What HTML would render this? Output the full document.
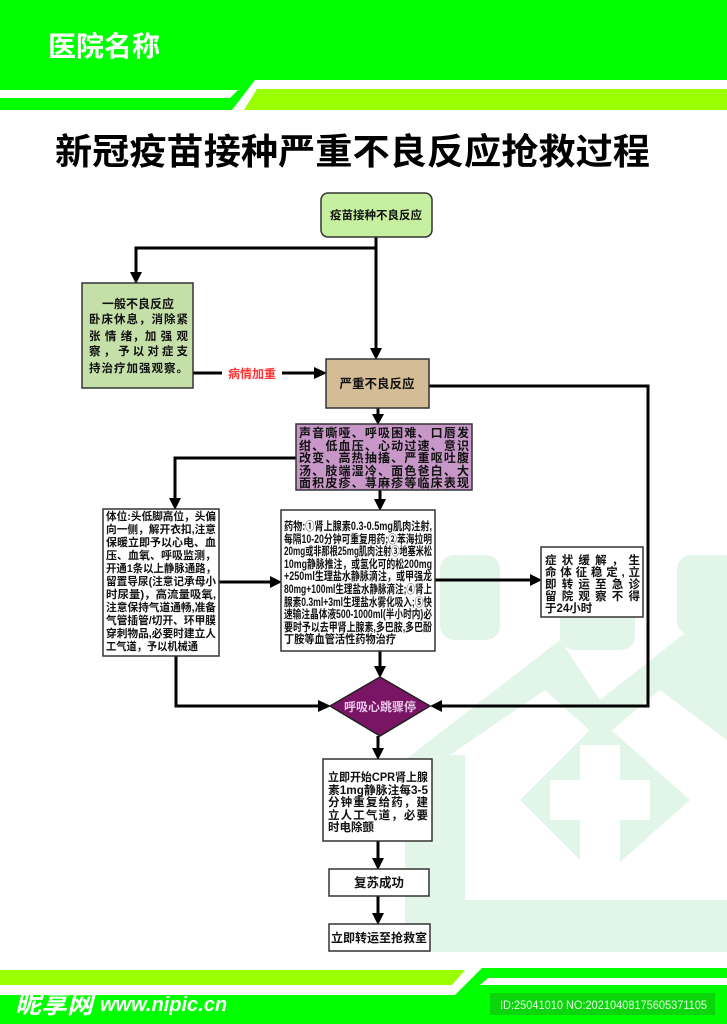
<!DOCTYPE html>
<html><head><meta charset="utf-8"><style>
*{margin:0;padding:0;box-sizing:border-box}
body{width:727px;height:1024px;position:relative;background:#fff;overflow:hidden;font-family:"Liberation Sans","Noto Sans CJK SC",sans-serif}
svg{position:absolute;left:0;top:0}
text{font-family:"Liberation Sans","Noto Sans CJK SC",sans-serif}
.t text{font-weight:bold;fill:#111;font-size:11.5px}
</style></head><body>
<svg width="727" height="1024">
<rect x="0" y="0" width="727" height="110" fill="#00ff00"/>
<polygon points="0,90 238,90 230,98 0,98" fill="#fff"/>
<polygon points="255,80 727,80 727,110 232,110" fill="#fff"/>
<polygon points="257,89 727,89 727,110 244,110" fill="#99ff00"/>
<text x="48" y="56" font-size="28" font-weight="bold" fill="#fff">医院名称</text>
<text x="55" y="164" font-size="36" font-weight="bold" fill="#000" textLength="595" lengthAdjust="spacingAndGlyphs">新冠疫苗接种严重不良反应抢救过程</text>
<g fill="#e1f5e8">
<rect x="560" y="555" width="75" height="95" rx="14"/>
<rect x="677" y="555" width="60" height="80" rx="14"/>
<rect x="440" y="555" width="60" height="85" rx="14"/>
<polygon points="405,760 560,640 600,700 727,600 727,952 405,952"/>
</g>
<polygon points="450,755 545,690 600,740 660,690 727,740 727,900 465,900 465,755" fill="#fff"/>
<polygon points="520,800 600,720 690,800 600,880" fill="#e1f5e8"/>
<g fill="#fff"><rect x="550" y="780" width="100" height="40"/><rect x="580" y="745" width="40" height="135"/></g>
<polygon points="0,970 465,970 452,985 0,985" fill="#99ff00"/>
<polygon points="0,995 455,995 482,968 727,968 727,1024 0,1024" fill="#00ff00"/>
<polygon points="488,978 727,978 727,985 480,985" fill="#fff"/>
<rect x="490" y="993" width="225" height="22" fill="#0bd60b"/>
<text x="500" y="1009" font-size="12" fill="#e8ffe8" textLength="207" lengthAdjust="spacingAndGlyphs">ID:25041010 NO:20210408175605371105</text>
<text x="15" y="1013" font-size="26" font-weight="bold" font-style="italic" fill="#fff">昵享网</text>
<text x="100" y="1011" font-size="20" font-weight="bold" font-style="italic" fill="#fff">www.nipic.cn</text>
<g stroke="#000" stroke-width="3" fill="none">
<path d="M376,237 V352"/>
<path d="M376,248 H136 V276"/>
<path d="M193,373 H222 M282,373 H318"/>
<path d="M429,386 H648 V706 H438"/>
<path d="M378,408 V418"/>
<path d="M296,458 H175 V502"/>
<path d="M380,490 V503"/>
<path d="M219,582 H274"/>
<path d="M435,580 H534"/>
<path d="M176,656 V706 H322"/>
<path d="M380,651 V670"/>
<path d="M378,736 V752"/>
<path d="M378,841 V862"/>
<path d="M378,896 V917"/>
</g>
<g fill="#000">
<polygon points="370,348 382,348 376,360"/>
<polygon points="130,272 142,272 136,284"/>
<polygon points="314,367 314,379 327,373"/>
<polygon points="372,414 384,414 378,425"/>
<polygon points="169,498 181,498 175,510"/>
<polygon points="374,499 386,499 380,511"/>
<polygon points="270,576 270,588 282,582"/>
<polygon points="530,574 530,586 542,580"/>
<polygon points="318,700 318,712 331,706"/>
<polygon points="442,700 442,712 430,706"/>
<polygon points="374,666 386,666 380,678"/>
<polygon points="372,748 384,748 378,760"/>
<polygon points="372,858 384,858 378,870"/>
<polygon points="372,913 384,913 378,925"/>
</g>
<g stroke="#333" stroke-width="1.5">
<rect x="321" y="193" width="111" height="44" rx="7" fill="#c6f0a0"/>
<rect x="82" y="283" width="111" height="105" fill="#c4dfa8"/>
<rect x="326" y="359" width="103" height="49" fill="#d4bc96"/>
<rect x="296" y="424" width="176" height="66" fill="#c797c7"/>
<rect x="103" y="509" width="116" height="147" fill="#fff"/>
<rect x="281" y="510" width="154" height="141" fill="#fff"/>
<rect x="541" y="547" width="102" height="70" fill="#fff"/>
<rect x="323" y="759" width="109" height="82" fill="#fff"/>
<rect x="329" y="869" width="100" height="27" fill="#fff"/>
<rect x="329" y="924" width="101" height="27" fill="#fff"/>
</g>
<polygon points="380,677 430,706 380,736 330,706" fill="#7a1566" stroke="#222" stroke-width="1.5"/>
<text x="380" y="711" font-size="12" font-weight="bold" fill="#e8c8e8" text-anchor="middle">呼吸心跳骤停</text>
<text x="252" y="378" font-size="12" font-weight="bold" fill="#ff3333" text-anchor="middle">病情加重</text>
<g class="t">
<text x="376" y="219" text-anchor="middle" font-size="12">疫苗接种不良反应</text>
<text x="377" y="388" text-anchor="middle" style="font-size:12.5px">严重不良反应</text>
<text x="379" y="887" text-anchor="middle" style="font-size:12.5px">复苏成功</text>
<text x="379" y="942" text-anchor="middle" style="font-size:12px">立即转运至抢救室</text>

<text x="138" y="308" text-anchor="middle" style="font-size:12px">一般不良反应</text>
<text x="89" y="323" textLength="99" lengthAdjust="spacing" style="font-size:11.5px">卧床休息，消除紧</text>
<text x="89" y="340" textLength="99" lengthAdjust="spacing" style="font-size:11.5px">张 情 绪，加 强 观</text>
<text x="89" y="355" textLength="99" lengthAdjust="spacing" style="font-size:11.5px">察，予以对症支</text>
<text x="89" y="372" textLength="99" lengthAdjust="spacing" style="font-size:11.5px">持治疗加强观察。</text>

<text x="299" y="437" textLength="170" lengthAdjust="spacing" style="font-size:12px">声音嘶哑、呼吸困难、口唇发</text>
<text x="299" y="450" textLength="170" lengthAdjust="spacing" style="font-size:12px">绀、低血压、心动过速、意识</text>
<text x="299" y="462" textLength="170" lengthAdjust="spacing" style="font-size:12px">改变、高热抽搐、严重呕吐腹</text>
<text x="299" y="475" textLength="170" lengthAdjust="spacing" style="font-size:12px">汤、肢端湿冷、面色爸白、大</text>
<text x="299" y="487" textLength="170" lengthAdjust="spacing" style="font-size:12px">面积皮疹、荨麻疹等临床表现</text>

<text x="106" y="520" textLength="110" lengthAdjust="spacingAndGlyphs" style="font-size:11px">体位:头低脚高位，头偏</text>
<text x="106" y="533" textLength="110" lengthAdjust="spacingAndGlyphs" style="font-size:11px">向一侧，解开衣扣,注意</text>
<text x="106" y="546" textLength="110" lengthAdjust="spacingAndGlyphs" style="font-size:11px">保暖立即予以心电、血</text>
<text x="106" y="559" textLength="110" lengthAdjust="spacingAndGlyphs" style="font-size:11px">压、血氧、呼吸监测，</text>
<text x="106" y="572" textLength="110" lengthAdjust="spacingAndGlyphs" style="font-size:11px">开通1条以上静脉通路，</text>
<text x="106" y="585" textLength="110" lengthAdjust="spacingAndGlyphs" style="font-size:11px">留置导尿(注意记承母小</text>
<text x="106" y="598" textLength="110" lengthAdjust="spacingAndGlyphs" style="font-size:11px">时尿量)，高流量吸氧,</text>
<text x="106" y="611" textLength="110" lengthAdjust="spacingAndGlyphs" style="font-size:11px">注意保持气道通畅,准备</text>
<text x="106" y="624" textLength="110" lengthAdjust="spacingAndGlyphs" style="font-size:11px">气管插管/切开、环甲膜</text>
<text x="106" y="637" textLength="110" lengthAdjust="spacingAndGlyphs" style="font-size:11px">穿刺物品,必要时建立人</text>
<text x="106" y="650" textLength="92" lengthAdjust="spacingAndGlyphs" style="font-size:11px">工气道，予以机械通</text>

<text x="284" y="530" textLength="148" lengthAdjust="spacingAndGlyphs" style="font-size:11.5px">药物:①肾上腺素0.3-0.5mg肌肉注射,</text>
<text x="284" y="543" textLength="148" lengthAdjust="spacingAndGlyphs" style="font-size:11.5px">每隔10-20分钟可重复用药;②苯海拉明</text>
<text x="284" y="555" textLength="148" lengthAdjust="spacingAndGlyphs" style="font-size:11.5px">20mg或非那根25mg肌肉注射③地塞米松</text>
<text x="284" y="568" textLength="148" lengthAdjust="spacingAndGlyphs" style="font-size:11.5px">10mg静脉推注，或氢化可的松200mg</text>
<text x="284" y="580" textLength="148" lengthAdjust="spacingAndGlyphs" style="font-size:11.5px">+250ml生理盐水静脉滴注，或甲强龙</text>
<text x="284" y="593" textLength="148" lengthAdjust="spacingAndGlyphs" style="font-size:11.5px">80mg+100ml生理盐水静脉滴注;④肾上</text>
<text x="284" y="606" textLength="148" lengthAdjust="spacingAndGlyphs" style="font-size:11.5px">腺素0.3ml+3ml生理盐水雾化吸入;⑤快</text>
<text x="284" y="618" textLength="148" lengthAdjust="spacingAndGlyphs" style="font-size:11.5px">速输注晶体液500-1000ml(半小时内)必</text>
<text x="284" y="631" textLength="148" lengthAdjust="spacingAndGlyphs" style="font-size:11.5px">要时予以去甲肾上腺素,多巴胺,多巴酚</text>
<text x="284" y="643" textLength="112" lengthAdjust="spacingAndGlyphs" style="font-size:11.5px">丁胺等血管活性药物治疗</text>

<text x="545" y="564" textLength="95" lengthAdjust="spacing" style="font-size:11.5px">症状缓解，生</text>
<text x="545" y="576" textLength="95" lengthAdjust="spacing" style="font-size:11.5px">命体征稳定,立</text>
<text x="545" y="588" textLength="95" lengthAdjust="spacing" style="font-size:11.5px">即转运至急诊</text>
<text x="545" y="600" textLength="95" lengthAdjust="spacing" style="font-size:11.5px">留院观察不得</text>
<text x="545" y="612" style="font-size:11.5px">于24小时</text>

<text x="328" y="781" textLength="100" lengthAdjust="spacingAndGlyphs" style="font-size:11.5px">立即开始CPR肾上腺</text>
<text x="328" y="794" textLength="100" lengthAdjust="spacingAndGlyphs" style="font-size:11.5px">素1mg静脉注每3-5</text>
<text x="328" y="806" textLength="100" lengthAdjust="spacing" style="font-size:11.5px">分钟重复给药，建</text>
<text x="328" y="819" textLength="100" lengthAdjust="spacing" style="font-size:11.5px">立人工气道，必要</text>
<text x="328" y="831" style="font-size:11.5px">时电除颤</text>
</g>
</svg>
</body></html>
